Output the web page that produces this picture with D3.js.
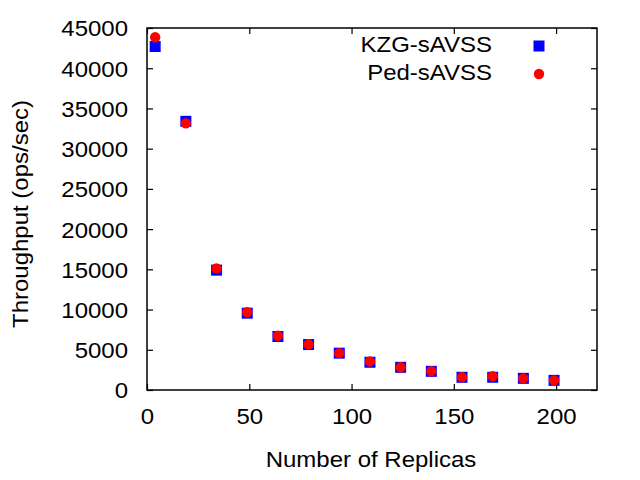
<!DOCTYPE html>
<html><head><meta charset="utf-8">
<script src="https://cdn.jsdelivr.net/npm/d3@7"></script>
<style>body{margin:0;background:#fff}text{font-family:"Liberation Sans",Arial,sans-serif;fill:#000}</style>
</head><body><svg id="c" width="640" height="480"></svg>
<script>
const replicas = [4,19,34,49,64,79,94,109,124,139,154,169,184,199];
const kzg = [42700,33400,14900,9550,6650,5650,4580,3450,2820,2320,1580,1580,1450,1200];
const ped = [43850,33150,15120,9660,6750,5680,4580,3550,2820,2330,1600,1700,1450,1200];
const xTicks = [0,50,100,150,200];
const yTicks = [0,5000,10000,15000,20000,25000,30000,35000,40000,45000];
const seriesNames = ["KZG-sAVSS","Ped-sAVSS"];
const colors = ["#0000ff","#ff0000"];

(function(){
const svg = d3.select("#c");
const L=147,R=597,T=28,B=390;
const x = d3.scaleLinear().domain([0,220]).range([L,R]);
const y = d3.scaleLinear().domain([0,45000]).range([B,T]);
const fs = 22;
const stretch = 1.09;

svg.append("rect").attr("x",L).attr("y",T).attr("width",R-L).attr("height",B-T)
  .attr("fill","none").attr("stroke","#000").attr("stroke-width",1.5);

const tk = 6;
const gB = svg.append("g").attr("transform",`translate(0,${B})`)
  .call(d3.axisBottom(x).tickValues(xTicks).tickSize(-tk).tickPadding(18).tickFormat(d3.format("d")));
const gT = svg.append("g").attr("transform",`translate(0,${T})`)
  .call(d3.axisTop(x).tickValues(xTicks).tickSize(-tk).tickFormat(""));
const gL = svg.append("g").attr("transform",`translate(${L},0)`)
  .call(d3.axisLeft(y).tickValues(yTicks).tickSize(-tk).tickPadding(19).tickFormat(d3.format("d")));
const gR = svg.append("g").attr("transform",`translate(${R},0)`)
  .call(d3.axisRight(y).tickValues(yTicks).tickSize(-tk).tickFormat(""));
[gB,gT,gL,gR].forEach(g=>{
  g.select(".domain").remove();
  g.selectAll("line").attr("stroke","#000").attr("stroke-width",1.2);
  g.selectAll("text").attr("font-size",fs).attr("font-family","Liberation Sans, Arial, sans-serif").attr("fill","#000");
});
gB.selectAll("text").attr("dy","0.71em");
gL.selectAll("text").attr("dy","0.36em");

svg.append("text").attr("x",371).attr("y",467).attr("text-anchor","middle")
  .attr("font-size",fs).text("Number of Replicas");
svg.append("text").attr("transform",`translate(28,214) rotate(-90)`).attr("text-anchor","middle")
  .attr("font-size",fs).text("Throughput (ops/sec)");

const sq = 11;
svg.append("g").selectAll("rect").data(replicas.map((r,i)=>[r,kzg[i]])).join("rect")
  .attr("x",d=>x(d[0])-sq/2).attr("y",d=>y(d[1])-sq/2).attr("width",sq).attr("height",sq)
  .attr("fill",colors[0]);
svg.append("g").selectAll("circle").data(replicas.map((r,i)=>[r,ped[i]])).join("circle")
  .attr("cx",d=>x(d[0])).attr("cy",d=>y(d[1])).attr("r",5.2).attr("fill",colors[1]);

svg.append("text").attr("x",492).attr("y",52).attr("text-anchor","end")
  .attr("font-size",fs).text(seriesNames[0]);
svg.append("rect").attr("x",539-sq/2).attr("y",46-sq/2).attr("width",sq).attr("height",sq).attr("fill",colors[0]);
svg.append("text").attr("x",492).attr("y",80).attr("text-anchor","end")
  .attr("font-size",fs).text(seriesNames[1]);
svg.append("circle").attr("cx",539).attr("cy",74).attr("r",5.2).attr("fill",colors[1]);

// widen glyphs slightly to match reference text metrics
svg.selectAll("text").each(function(){
  const t = d3.select(this);
  if (!t.text()) return;
  const w = this.getComputedTextLength();
  t.attr("textLength", w*stretch).attr("lengthAdjust","spacingAndGlyphs");
});
})();
</script></body></html>
